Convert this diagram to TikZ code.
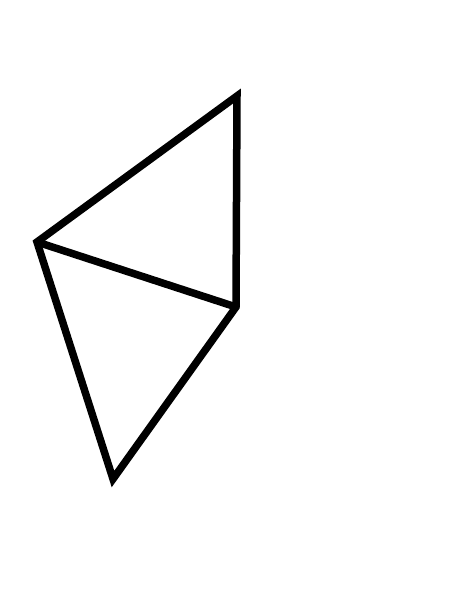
\documentclass[tikz,border=0pt]{standalone}
\usepackage{tikz}

\tikzset{edge/.style={line width=7.5pt, line join=miter}}

\begin{document}
\begin{tikzpicture}[x=1pt, y=1pt]
    \useasboundingbox (0, 0) rectangle (474, 614);
    \coordinate (top) at (237, 518);
    \coordinate (left) at (37, 372);
    \coordinate (mid) at (236, 307);
    \coordinate (bot) at (113, 135);

    \draw[edge] (left) -- (top) -- (mid) -- (bot) -- cycle;
    \draw[edge] (left) -- (mid);
\end{tikzpicture}
\end{document}
